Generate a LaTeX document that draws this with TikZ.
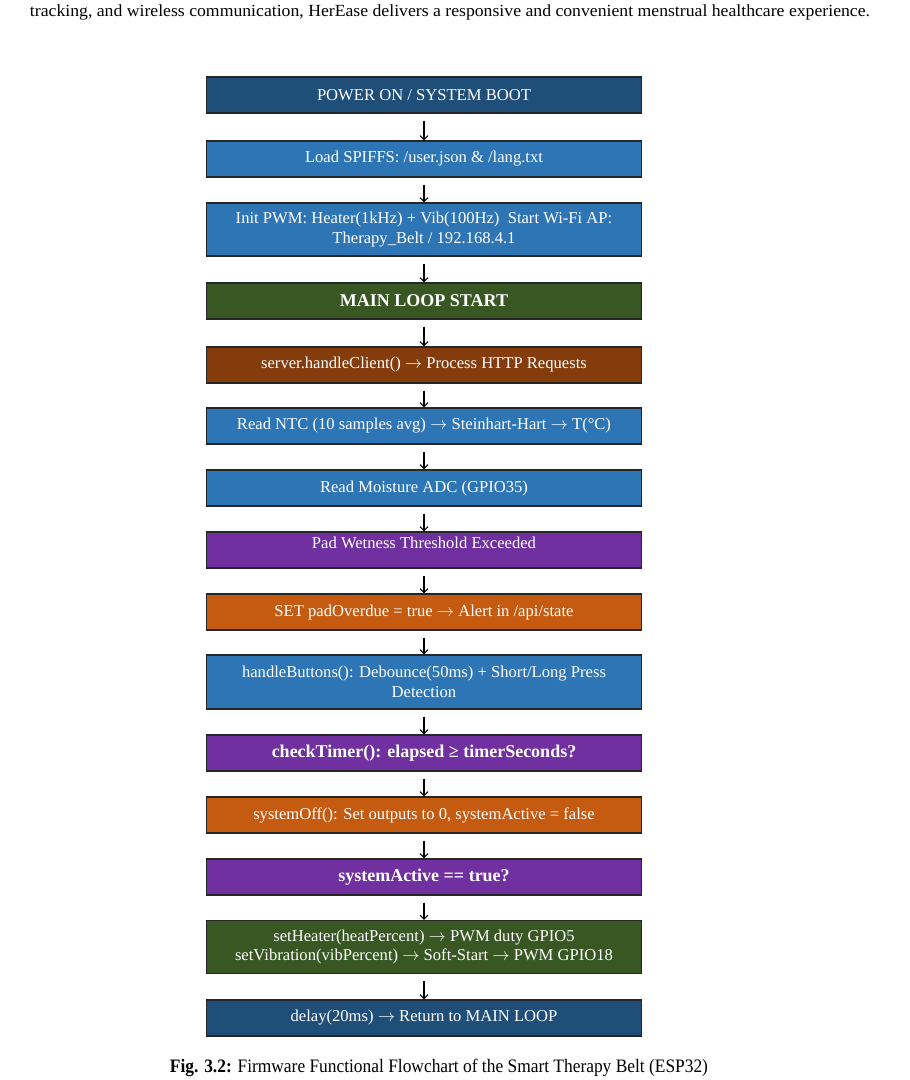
\documentclass[tikz,border=0pt]{standalone}
\usepackage{fontspec}
\setmainfont{Liberation Serif}
\usetikzlibrary{arrows.meta}
\definecolor{cnavy}{HTML}{1F4E79}
\definecolor{cblue}{HTML}{2E75B6}
\definecolor{cgreen}{HTML}{385723}
\definecolor{cbrown}{HTML}{843C0C}
\definecolor{cpurple}{HTML}{7030A0}
\definecolor{corange}{HTML}{C55A11}
\newcommand\rarr{\ensuremath{\rightarrow}}
\begin{document}
\begin{tikzpicture}[x=1pt,y=-1pt,
  flowbox/.style={draw=black!85, line width=1.3pt, minimum width=434.5pt, inner xsep=4pt,
     text=white, align=center, font=\fontsize{16.6}{19.5}\selectfont},
  hbox/.style={flowbox, minimum height=36pt},
  tbox/.style={flowbox, minimum height=53pt},
  boldbox/.style={hbox, font=\fontsize{18}{20}\selectfont\bfseries},
  flowarrow/.style={draw=black, line width=1.1pt, -{Straight Barb[length=4pt,width=8pt]}}]
\useasboundingbox (0,0) rectangle (910,1080);
\fill[white] (0,0) rectangle (910,1080);

\node (toptext) at (450,12) {\resizebox{840pt}{\height}{\fontsize{17}{19}\selectfont tracking, and wireless communication, HerEase delivers a responsive and convenient menstrual healthcare experience.}};

\node[hbox, fill=cnavy] (b1) at (424,95) {POWER ON / SYSTEM BOOT};
\node[hbox, fill=cblue] (b2) at (424,159) {Load SPIFFS: /user.json \& /lang.txt};
\node[tbox, fill=cblue] (b3) at (424,229.5) {Init PWM: Heater(1kHz) + Vib(100Hz)\ \ Start Wi-Fi AP:\\Therapy\_Belt / 192.168.4.1};
\node[boldbox, fill=cgreen] (b4) at (424,301) {MAIN LOOP START};
\node[hbox, fill=cbrown] (b5) at (424,365) {server.handleClient() \rarr{} Process HTTP Requests};
\node[hbox, fill=cblue] (b6) at (424,426) {Read NTC (10 samples avg) \rarr{} Steinhart-Hart \rarr{} T(°C)};
\node[hbox, fill=cblue] (b7) at (424,488) {Read Moisture ADC (GPIO35)};
\node[hbox, fill=cpurple, text depth=14pt] (b8) at (424,550) {Pad Wetness Threshold Exceeded};
\node[hbox, fill=corange] (b9) at (424,612) {SET padOverdue = true \rarr{} Alert in /api/state};
\node[tbox, fill=cblue, minimum height=54pt] (b10) at (424,682) {handleButtons(): Debounce(50ms) + Short/Long Press\\Detection};
\node[boldbox, fill=cpurple] (b11) at (424,753) {checkTimer(): elapsed ≥ timerSeconds?};
\node[hbox, fill=corange] (b12) at (424,815) {systemOff(): Set outputs to 0, systemActive = false};
\node[boldbox, fill=cpurple] (b13) at (424,877) {systemActive == true?};
\node[tbox, fill=cgreen] (b14) at (424,947) {setHeater(heatPercent) \rarr{} PWM duty GPIO5\\setVibration(vibPercent) \rarr{} Soft-Start \rarr{} PWM GPIO18};
\node[hbox, fill=cnavy] (b15) at (424,1018) {delay(20ms) \rarr{} Return to MAIN LOOP};

\node (caption) at (439,1068) {\resizebox{538pt}{\height}{\fontsize{19}{21}\selectfont\textbf{Fig. 3.2:} Firmware Functional Flowchart of the Smart Therapy Belt (ESP32)}};

\foreach \a/\b in {b1/b2,b2/b3,b3/b4,b4/b5,b5/b6,b6/b7,b7/b8,b8/b9,b9/b10,b10/b11,b11/b12,b12/b13,b13/b14,b14/b15}
  \draw[flowarrow] ([yshift=-7pt]\a.south) -- (\b.north);
\end{tikzpicture}
\end{document}
